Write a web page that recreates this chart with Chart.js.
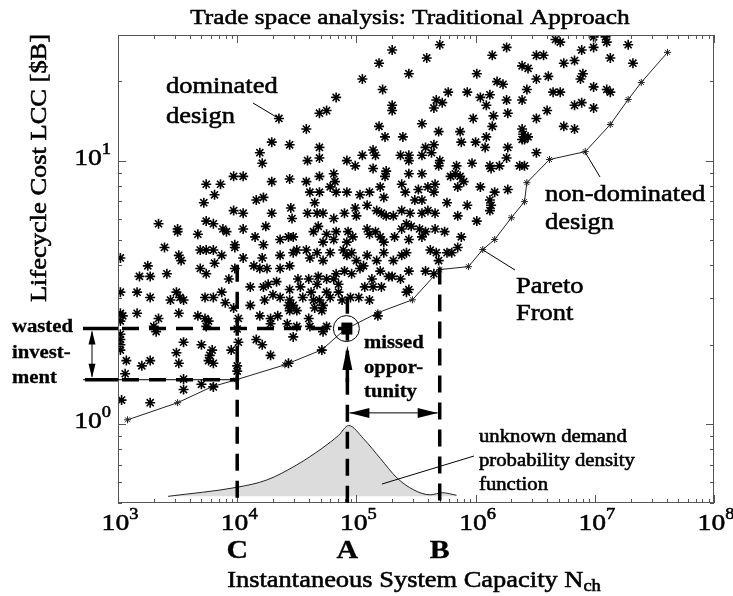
<!DOCTYPE html>
<html lang="en">
<head>
<meta charset="UTF-8">
<title>Trade space analysis: Traditional Approach</title>
<script src="https://cdn.jsdelivr.net/npm/chart.js"></script>
<style>
  body { margin: 0; background: #fff; }
  canvas { display: block; }
</style>
</head>
<body>
<canvas id="trade" width="733" height="596" style="width:733px;height:596px"></canvas>
<script>
// all values are log10 of (capacity N_ch, lifecycle cost in $B)
const designsLog10 = [
  [5.70,1.44],[5.30,1.42],[5.59,1.39],[5.19,1.37],[5.44,1.33],[5.05,1.31],[5.22,1.27],[5.77,1.26],
  [4.83,1.24],[5.67,1.23],[5.72,1.22],[5.30,1.21],[5.30,1.19],[4.75,1.19],[4.69,1.18],[5.65,1.20],
  [4.35,1.16],[4.58,1.12],[5.19,1.13],[5.55,1.14],[5.24,1.09],[5.39,1.09],[5.69,1.11],[4.29,1.07],
  [4.44,1.06],[4.69,1.05],[5.58,1.05],[5.65,1.06],[4.19,1.03],[4.21,0.99],[4.59,1.00],[4.69,1.01],
  [4.92,1.00],[4.99,0.98],[5.05,1.02],[5.14,1.04],[5.16,1.02],[5.25,0.96],[5.24,0.94],[5.37,1.02],
  [5.44,1.02],[5.44,1.00],[5.55,1.02],[5.63,1.03],[5.70,1.00],[5.14,0.97],[5.69,0.98],[3.97,0.94],
  [4.05,0.94],[4.29,0.92],[4.44,0.93],[4.58,0.92],[4.69,0.94],[4.81,0.95],[4.82,0.92],[3.74,0.91],
  [3.86,0.91],[3.81,0.87],[4.16,0.85],[4.22,0.86],[4.61,0.88],[4.69,0.88],[4.78,0.90],[4.83,0.88],
  [4.92,0.88],[5.03,0.87],[5.11,0.88],[5.20,0.90],[5.23,0.86],[5.38,0.91],[5.41,0.88],[5.52,0.89],
  [5.55,0.85],[5.60,0.90],[5.66,0.91],[5.65,0.88],[5.44,0.95],[5.55,0.95],[3.72,0.84],[3.97,0.81],
  [4.05,0.80],[4.29,0.80],[4.45,0.82],[4.46,0.78],[4.59,0.80],[4.67,0.80],[4.72,0.80],[4.65,0.84],
  [4.81,0.78],[4.90,0.80],[4.99,0.82],[5.00,0.79],[5.09,0.83],[5.17,0.81],[5.21,0.80],[5.25,0.79],
  [5.31,0.79],[5.38,0.81],[5.45,0.80],[5.49,0.85],[5.55,0.80],[5.60,0.81],[5.66,0.80],[5.76,0.84],
  [3.34,0.76],[3.50,0.74],[3.50,0.73],[3.74,0.77],[3.80,0.76],[3.88,0.74],[3.91,0.73],[3.67,0.72],
  [4.05,0.74],[4.24,0.75],[4.15,0.71],[4.22,0.68],[4.36,0.70],[4.43,0.71],[4.47,0.71],[4.64,0.73],
  [4.68,0.75],[4.75,0.72],[4.72,0.69],[4.81,0.70],[4.83,0.73],[4.92,0.69],[4.93,0.73],[4.97,0.71],
  [5.09,0.74],[5.11,0.72],[5.16,0.73],[5.20,0.71],[5.23,0.69],[5.32,0.71],[5.38,0.74],[5.42,0.76],
  [5.46,0.75],[5.53,0.74],[5.58,0.73],[5.55,0.71],[5.66,0.74],[5.74,0.73],[5.44,0.70],[3.39,0.67],
  [3.02,0.63],[3.51,0.64],[3.53,0.62],[3.69,0.66],[3.74,0.66],[3.80,0.66],[3.87,0.64],[3.81,0.61],
  [3.98,0.68],[3.98,0.67],[4.05,0.63],[4.21,0.63],[4.36,0.64],[4.47,0.65],[4.50,0.66],[4.58,0.66],
  [4.61,0.63],[4.67,0.65],[4.72,0.62],[4.78,0.65],[4.89,0.66],[4.92,0.64],[4.96,0.65],[5.00,0.62],
  [5.09,0.64],[5.17,0.62],[5.23,0.65],[5.31,0.62],[5.38,0.64],[5.42,0.65],[5.62,0.66],[5.67,0.65],
  [5.76,0.65],[3.25,0.60],[3.18,0.56],[3.27,0.56],[3.41,0.57],[3.69,0.59],[3.74,0.57],[4.14,0.60],
  [4.19,0.59],[4.25,0.59],[4.36,0.59],[4.44,0.60],
  [4.83,0.57],[4.85,0.53],[4.90,0.58],[4.96,0.57],[5.03,0.59],[5.06,0.60],[5.13,0.55],[5.20,0.58],
  [5.27,0.56],[5.37,0.55],[5.44,0.58],[5.58,0.58],[5.65,0.57],[5.07,0.52],[5.14,0.52],[5.21,0.52],
  [5.42,0.50],[5.02,0.48],[4.95,0.48],
  [3.97,0.44],[4.01,0.40],[4.11,0.45],[3.98,0.59],[4.11,0.52],[4.22,0.52],[4.26,0.53],[4.33,0.54],
  [4.23,0.47],[4.30,0.49],[4.36,0.48],[4.19,0.41],[4.28,0.40],[4.34,0.41],[4.43,0.45],[4.44,0.43],
  [4.47,0.45],[4.50,0.43],[4.44,0.47],[4.44,0.51],[4.53,0.52],[4.51,0.55],[4.55,0.48],[4.62,0.50],
  [4.64,0.47],[4.65,0.44],[4.69,0.47],[4.72,0.45],[4.71,0.43],[4.75,0.50],[4.78,0.48],[4.60,0.55],
  [4.67,0.53],[4.68,0.56],[4.75,0.55],[4.81,0.55],[4.85,0.50],[4.88,0.47],[5.11,0.47],[5.30,0.56],
  [5.44,0.51],[5.18,0.41],[4.75,0.37],[4.28,0.38],[4.42,0.38],[4.50,0.37],[4.61,0.37],[4.60,0.40],
  [4.47,0.33],[4.71,0.28],[4.43,0.23],[4.72,0.35],
  [3.02,0.50],[3.16,0.50],[3.27,0.48],[3.44,0.47],[3.49,0.50],[3.52,0.48],[3.55,0.47],[3.51,0.42],
  [3.02,0.42],[3.04,0.41],[3.02,0.39],[3.16,0.42],[3.34,0.40],[3.30,0.37],[3.32,0.35],[3.02,0.34],
  [3.02,0.32],[3.02,0.30],[3.02,0.28],[3.07,0.24],[3.06,0.19],[3.20,0.22],[3.27,0.24],[3.49,0.27],
  [3.51,0.23],[3.55,0.31],[3.73,0.48],[3.80,0.48],[3.67,0.41],[3.73,0.40],[3.76,0.39],[3.74,0.37],
  [3.70,0.30],[3.79,0.28],[3.77,0.26],[3.76,0.24],[3.80,0.23],[3.95,0.28],[4.00,0.36],[4.01,0.31],
  [4.00,0.22],[4.00,0.20],[3.87,0.50],[3.90,0.46],[3.93,0.55],[4.16,0.32],[4.21,0.30],[4.28,0.26],
  [3.55,0.17],[3.55,0.13],[3.70,0.15],[3.80,0.14],[3.03,0.09],[3.27,0.08],
  [6.26,1.43],[6.67,1.46],[6.71,1.45],[6.99,1.47],[7.09,1.47],[7.10,1.45],[6.89,1.42],[6.99,1.43],
  [7.28,1.44],[6.14,1.40],[6.51,1.40],[6.57,1.40],[7.13,1.39],[7.32,1.37],[6.74,1.37],[6.83,1.38],
  [6.01,1.33],[6.39,1.36],[6.44,1.35],[6.51,1.31],[6.61,1.32],[6.90,1.33],[6.88,1.31],[6.18,1.30],
  [6.23,1.29],[5.93,1.26],[6.04,1.24],[6.12,1.25],[6.09,1.21],[6.26,1.23],[6.39,1.23],[6.43,1.27],
  [6.65,1.26],[6.71,1.26],[6.99,1.28],[7.10,1.27],[7.13,1.26],[6.83,1.21],[6.89,1.22],[6.99,1.20],
  [6.60,1.19],[5.98,1.16],[6.15,1.17],[6.27,1.18],[6.51,1.16],[6.14,1.13],[6.74,1.13],[6.83,1.12],
  [6.39,1.12],[6.40,1.10],[6.41,1.08],[6.44,1.09],[6.39,1.08],[6.09,1.09],[5.87,1.11],[5.88,1.07],
  [6.00,1.07],[6.08,1.05],[6.27,1.05],[6.51,1.03],[5.84,0.98],[5.83,0.95],[5.97,0.99],[6.12,0.98],
  [6.13,0.97],[6.20,0.98],[6.26,1.01],[6.37,0.98],[6.41,0.98],[5.79,0.94],[5.87,0.94],[5.90,0.92],
  [5.85,0.90],[6.04,0.90],[6.16,0.88],[6.27,0.89],[6.12,0.85],[6.13,0.83],[6.12,0.81],[5.93,0.83],
  [6.01,0.77],[5.88,0.71],[5.85,0.67],[5.69,0.62],[5.80,0.65],[5.85,0.79]
];

// Pareto front (non-dominated designs), log10 values
const paretoLogN   = [3.08, 3.50, 3.79, 3.99, 4.40, 4.71, 4.90, 5.18, 5.47, 5.70, 5.94, 6.06, 6.16, 6.30, 6.41, 6.43, 6.62, 6.92, 7.13, 7.28, 7.39, 7.61];
const paretoLogLCC = [0.015, 0.080, 0.141, 0.167, 0.224, 0.281, 0.357, 0.422, 0.471, 0.586, 0.597, 0.662, 0.700, 0.783, 0.844, 0.916, 1.004, 1.034, 1.137, 1.232, 1.297, 1.411];

// demand pdf drawn on the same axes (x: log10 N, y: plotted value)
const pdfLogN  = [3.42, 4.00, 4.25, 4.50, 4.71, 4.85, 4.935, 5.06, 5.20, 5.34, 5.48, 5.62, 5.72, 5.84];
const pdfValue = [0.530, 0.574, 0.612, 0.698, 0.806, 0.903, 0.985, 0.877, 0.739, 0.623, 0.561, 0.537, 0.547, 0.535];
const pdfBase  = 0.53;

// design points C, A, B and the cost levels
const capC = 1e4, capA = 8.4e4, capB = 5e5;
const costA = 2.3, costC = 1.47, missedY = 1.10;
const topC = 4.02, topA = 3.04, topB = 3.92;

const xTickExp = [3, 4, 5, 6, 7, 8];
const yTickExp = [0, 1];

const SERIF = '"Liberation Serif", "Times New Roman", serif';
const SX = 1.15; // the original lettering is a bit wider than Times

function txt(ctx, s, x, y, size, opts) {
    opts = opts || {};
    ctx.save();
    ctx.font = (opts.bold ? 'bold ' : '') + size + 'px ' + SERIF;
    ctx.textAlign = opts.align || 'left';
    ctx.textBaseline = opts.base || 'middle';
    ctx.translate(x, y);
    if (opts.rot) ctx.rotate(opts.rot);
    ctx.scale(SX, 1);
    ctx.fillStyle = '#000';
    ctx.strokeStyle = '#000';
    ctx.lineWidth = opts.bold ? 0.3 : 0.55;
    ctx.fillText(s, 0, 0);
    ctx.strokeText(s, 0, 0);
    ctx.restore();
}

function textWidth(ctx, s, size, bold) {
    ctx.font = (bold ? 'bold ' : '') + size + 'px ' + SERIF;
    return ctx.measureText(s).width * SX;
}

function power(ctx, e, x, y, align) {
    const w1 = textWidth(ctx, '10', 24), w2 = textWidth(ctx, String(e), 16);
    const left = align === 'center' ? x - (w1 + w2) / 2 : x - (w1 + w2);
    txt(ctx, '10', left, y, 24, { base: 'alphabetic' });
    txt(ctx, String(e), left + w1, y - 11, 16, { base: 'alphabetic' });
}

function seg(ctx, x1, y1, x2, y2) {
    ctx.beginPath(); ctx.moveTo(x1, y1); ctx.lineTo(x2, y2); ctx.stroke();
}

function head(ctx, tx, ty, bx, by, hw) {
    const dx = tx - bx, dy = ty - by, L = Math.hypot(dx, dy);
    const nx = -dy / L * hw, ny = dx / L * hw;
    ctx.beginPath();
    ctx.moveTo(tx, ty); ctx.lineTo(bx + nx, by + ny); ctx.lineTo(bx - nx, by - ny);
    ctx.closePath(); ctx.fill();
}

const overlay = {
    id: 'overlay',
    afterDatasetsDraw(chart) {
        const { ctx, chartArea: a, scales: { x, y } } = chart;
        const X = v => x.getPixelForValue(v), Y = v => y.getPixelForValue(v);
        ctx.save();
        ctx.fillStyle = '#000';

        // frame and inward ticks
        ctx.strokeStyle = '#555'; ctx.lineWidth = 1;
        ctx.strokeRect(a.left + 0.5, a.top + 0.5, a.width - 1, a.height - 1);
        for (let e = 3; e <= 8; e++) {
            for (let m = 1; m < 10; m++) {
                const v = m * Math.pow(10, e);
                if (v > 1e8) break;
                const px = Math.round(X(v)) + 0.5, len = m === 1 ? 8 : 4;
                seg(ctx, px, a.bottom, px, a.bottom - len);
                seg(ctx, px, a.top, px, a.top + len);
            }
        }
        for (let e = -1; e <= 1; e++) {
            for (let m = 1; m < 10; m++) {
                const v = m * Math.pow(10, e);
                if (v < 0.5 || v > 30) continue;
                const py = Math.round(Y(v)) + 0.5, len = m === 1 ? 8 : 4;
                seg(ctx, a.left, py, a.left + len, py);
                seg(ctx, a.right, py, a.right - len, py);
            }
        }

        // tick labels
        xTickExp.forEach(e => power(ctx, e, X(Math.pow(10, e)) + 2, a.bottom + 27, 'center'));
        yTickExp.forEach(e => power(ctx, e, a.left - 7, Y(Math.pow(10, e)) + 4, 'right'));

        // dashed guide lines
        ctx.strokeStyle = '#000';
        ctx.lineWidth = 1;
        seg(ctx, a.left - 35, Y(costC), X(capC), Y(costC));
        ctx.lineWidth = 3.5;
        seg(ctx, a.left - 35, Y(costA), a.left, Y(costA));
        seg(ctx, a.left - 33, Y(costC), a.left, Y(costC));
        ctx.setLineDash([17, 10]);
        seg(ctx, a.left + 4, Y(costA), X(capA), Y(costA));
        seg(ctx, a.left + 4, Y(costC), X(capC), Y(costC));
        seg(ctx, X(capC), Y(topC), X(capC), a.bottom);
        seg(ctx, X(capA), Y(topA), X(capA), a.bottom);
        seg(ctx, X(capB), Y(topB), X(capB), a.bottom);
        ctx.setLineDash([]);

        // point A: square, circle and arrow from below
        const ax = X(capA), ay = Y(costA);
        ctx.fillRect(ax - 6, ay - 6, 11, 12);
        ctx.lineWidth = 1;
        ctx.beginPath(); ctx.arc(ax - 1, ay, 13, 0, Math.PI * 2); ctx.stroke();
        head(ctx, ax, Y(1.98), ax, Y(1.6), 5);
        ctx.lineWidth = 3.5;
        seg(ctx, ax, Y(1.62), ax, Y(1.44));

        // wasted investment arrow
        ctx.lineWidth = 1;
        const wx = a.left - 26;
        seg(ctx, wx, Y(costA) + 3, wx, Y(costC) - 3);
        head(ctx, wx, Y(costA) + 2, wx, Y(costA) + 16, 3.5);
        head(ctx, wx, Y(costC) - 2, wx, Y(costC) - 16, 3.5);

        // missed opportunity arrow
        const my = Y(missedY);
        seg(ctx, X(capA) + 2, my, X(capB) - 2, my);
        head(ctx, X(capA) + 2, my, X(capA) + 22, my, 5);
        head(ctx, X(capB) - 2, my, X(capB) - 22, my, 5);

        // pointer lines
        seg(ctx, 253, 103, 278, 118);
        seg(ctx, 585, 152, 600, 177);
        seg(ctx, 483, 250, 515, 270);
        seg(ctx, 382, 484, 474, 456);

        // annotation texts
        txt(ctx, 'dominated', 166, 87, 23);
        txt(ctx, 'design', 166, 117, 23);
        txt(ctx, 'non-dominated', 545, 195, 23);
        txt(ctx, 'design', 545, 223, 23);
        txt(ctx, 'Pareto', 516, 287, 23);
        txt(ctx, 'Front', 516, 314, 23);
        txt(ctx, 'wasted', 12, 327, 18, { bold: true });
        txt(ctx, 'invest-', 12, 353, 18, { bold: true });
        txt(ctx, 'ment', 12, 378, 18, { bold: true });
        txt(ctx, 'missed', 364, 343, 18, { bold: true });
        txt(ctx, 'oppor-', 364, 368, 18, { bold: true });
        txt(ctx, 'tunity', 364, 392, 18, { bold: true });
        txt(ctx, 'unknown demand', 479, 437, 18);
        txt(ctx, 'probability density', 479, 461, 18);
        txt(ctx, 'function', 479, 485, 18);

        // C, A, B markers under the axis
        txt(ctx, 'C', X(capC), 558, 26, { bold: true, align: 'center', base: 'alphabetic' });
        txt(ctx, 'A', X(capA), 558, 26, { bold: true, align: 'center', base: 'alphabetic' });
        txt(ctx, 'B', X(capB), 558, 26, { bold: true, align: 'center', base: 'alphabetic' });

        // title and axis titles
        txt(ctx, 'Trade space analysis: Traditional Approach', 410, 24, 22, { align: 'center', base: 'alphabetic' });
        txt(ctx, 'Lifecycle Cost LCC [$B]', 40, 168, 23, { align: 'center', rot: -Math.PI / 2 });
        const main = 'Instantaneous System Capacity N';
        const w1 = textWidth(ctx, main, 23), w2 = textWidth(ctx, 'ch', 16);
        const lx = 414 - (w1 + w2) / 2;
        txt(ctx, main, lx, 587, 23, { base: 'alphabetic' });
        txt(ctx, 'ch', lx + w1, 591, 16, { base: 'alphabetic' });

        ctx.restore();
    }
};

const ctx = document.getElementById('trade').getContext('2d');
new Chart(ctx, {
    type: 'scatter',
    data: {
        datasets: [
            {
                label: 'designs',
                data: designsLog10.map(p => ({ x: Math.pow(10, p[0]), y: Math.pow(10, p[1]) })),
                pointStyle: 'star',
                pointRadius: 5,
                borderColor: '#000',
                borderWidth: 1.6,
                showLine: false,
                order: 1
            },
            {
                label: 'Pareto front',
                data: paretoLogN.map((v, i) => ({ x: Math.pow(10, v), y: Math.pow(10, paretoLogLCC[i]) })),
                showLine: true,
                borderColor: '#222',
                borderWidth: 1,
                pointStyle: 'star',
                pointRadius: 3.5,
                pointBorderWidth: 1,
                order: 2
            },
            {
                label: 'demand pdf',
                data: pdfLogN.map((v, i) => ({ x: Math.pow(10, v), y: pdfValue[i] })),
                showLine: true,
                fill: { value: pdfBase },
                backgroundColor: '#dcdcdc',
                borderColor: '#222',
                borderWidth: 1,
                pointRadius: 0,
                cubicInterpolationMode: 'monotone',
                order: 3
            }
        ]
    },
    options: {
        responsive: false,
        devicePixelRatio: 1,
        animation: false,
        layout: { padding: { left: 118, top: 35, right: 19, bottom: 93 } },
        plugins: { legend: { display: false }, tooltip: { enabled: false } },
        scales: {
            x: { type: 'logarithmic', min: 1e3, max: 1e8, display: false },
            y: { type: 'logarithmic', min: 0.5, max: 30, display: false }
        }
    },
    plugins: [overlay]
});
</script>
</body>
</html>
